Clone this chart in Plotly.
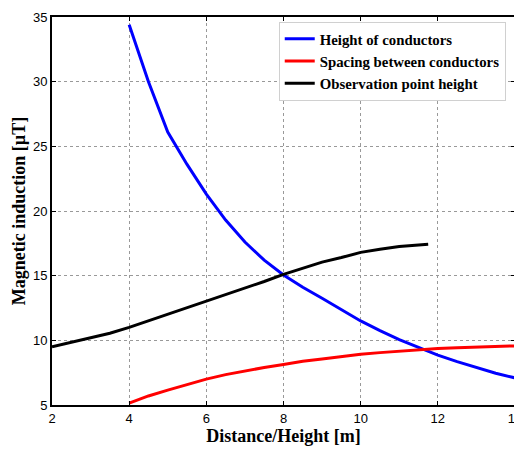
import plotly.graph_objects as go

x_height = [4, 4.5, 5, 5.5, 6, 6.5, 7, 7.5, 8, 8.5, 9, 9.5, 10, 10.5, 11, 11.5, 12, 12.5, 13, 13.5, 14]
b_height = [34.4, 30.0, 26.1, 23.6, 21.3, 19.3, 17.6, 16.2, 15.05, 14.1, 13.25, 12.35, 11.5, 10.75, 10.05, 9.45, 8.85, 8.35, 7.88, 7.45, 7.1]

x_spacing = [4, 4.5, 5, 5.5, 6, 6.5, 7, 7.5, 8, 8.5, 9, 9.5, 10, 10.5, 11, 11.5, 12, 12.5, 13, 13.5, 14]
b_spacing = [5.15, 5.7, 6.15, 6.6, 7.0, 7.35, 7.65, 7.9, 8.13, 8.38, 8.55, 8.75, 8.92, 9.05, 9.17, 9.27, 9.36, 9.43, 9.49, 9.53, 9.57]

x_obs = [2, 2.5, 3, 3.5, 4, 4.5, 5, 5.5, 6, 6.5, 7, 7.5, 8, 8.5, 9, 9.5, 10, 10.5, 11, 11.5, 11.75]
b_obs = [9.5, 9.85, 10.2, 10.55, 11.0, 11.5, 12.0, 12.5, 13.05, 13.55, 14.05, 14.55, 15.1, 15.6, 16.05, 16.4, 16.8, 17.05, 17.25, 17.38, 17.43]

x_ticks = [2, 4, 6, 8, 10, 12, 14]
y_ticks = [5, 10, 15, 20, 25, 30, 35]

fig = go.Figure()
fig.add_trace(go.Scatter(x=x_height, y=b_height, mode="lines", name="Height of conductors",
                         line=dict(color="#0000ff", width=3)))
fig.add_trace(go.Scatter(x=x_spacing, y=b_spacing, mode="lines", name="Spacing between conductors",
                         line=dict(color="#ff0000", width=3)))
fig.add_trace(go.Scatter(x=x_obs, y=b_obs, mode="lines", name="Observation point height",
                         line=dict(color="#000000", width=3)))

axis_common = dict(
    showline=True, linecolor="black", linewidth=2, mirror="ticks",
    ticks="inside", ticklen=4, tickcolor="black", tickwidth=1,
    showgrid=True, gridcolor="#999999", gridwidth=1, griddash="dot",
    zeroline=False, automargin=False, ticklabeloverflow="allow",
    tickfont=dict(family="Liberation Sans, Arial, sans-serif", size=13, color="black"),
)

fig.update_xaxes(range=[2, 14], tickvals=x_ticks,
                 title=dict(text="Distance/Height [m]", standoff=4,
                            font=dict(family="Liberation Serif, Times New Roman, serif", size=18, color="black", weight="bold")),
                 **axis_common)
fig.update_yaxes(range=[5, 35], tickvals=y_ticks,
                 title=dict(text="Magnetic induction [µT]", standoff=3,
                            font=dict(family="Liberation Serif, Times New Roman, serif", size=18, color="black", weight="bold")),
                 **axis_common)

# page body has an 8px default margin; compensate so the plot area lands where the reference has it
fig.update_layout(
    width=514, height=444,
    margin=dict(l=44, r=7, t=9, b=47),
    paper_bgcolor="white", plot_bgcolor="white",
    showlegend=True,
    legend=dict(x=0.98, y=0.988, xanchor="right", yanchor="top",
                bgcolor="white", bordercolor="#d0d0d0", borderwidth=1,
                font=dict(family="Liberation Serif, Times New Roman, serif", size=14.8, color="black", weight="bold"),
                tracegroupgap=0, itemwidth=30),
)

fig.write_html("out.html")
